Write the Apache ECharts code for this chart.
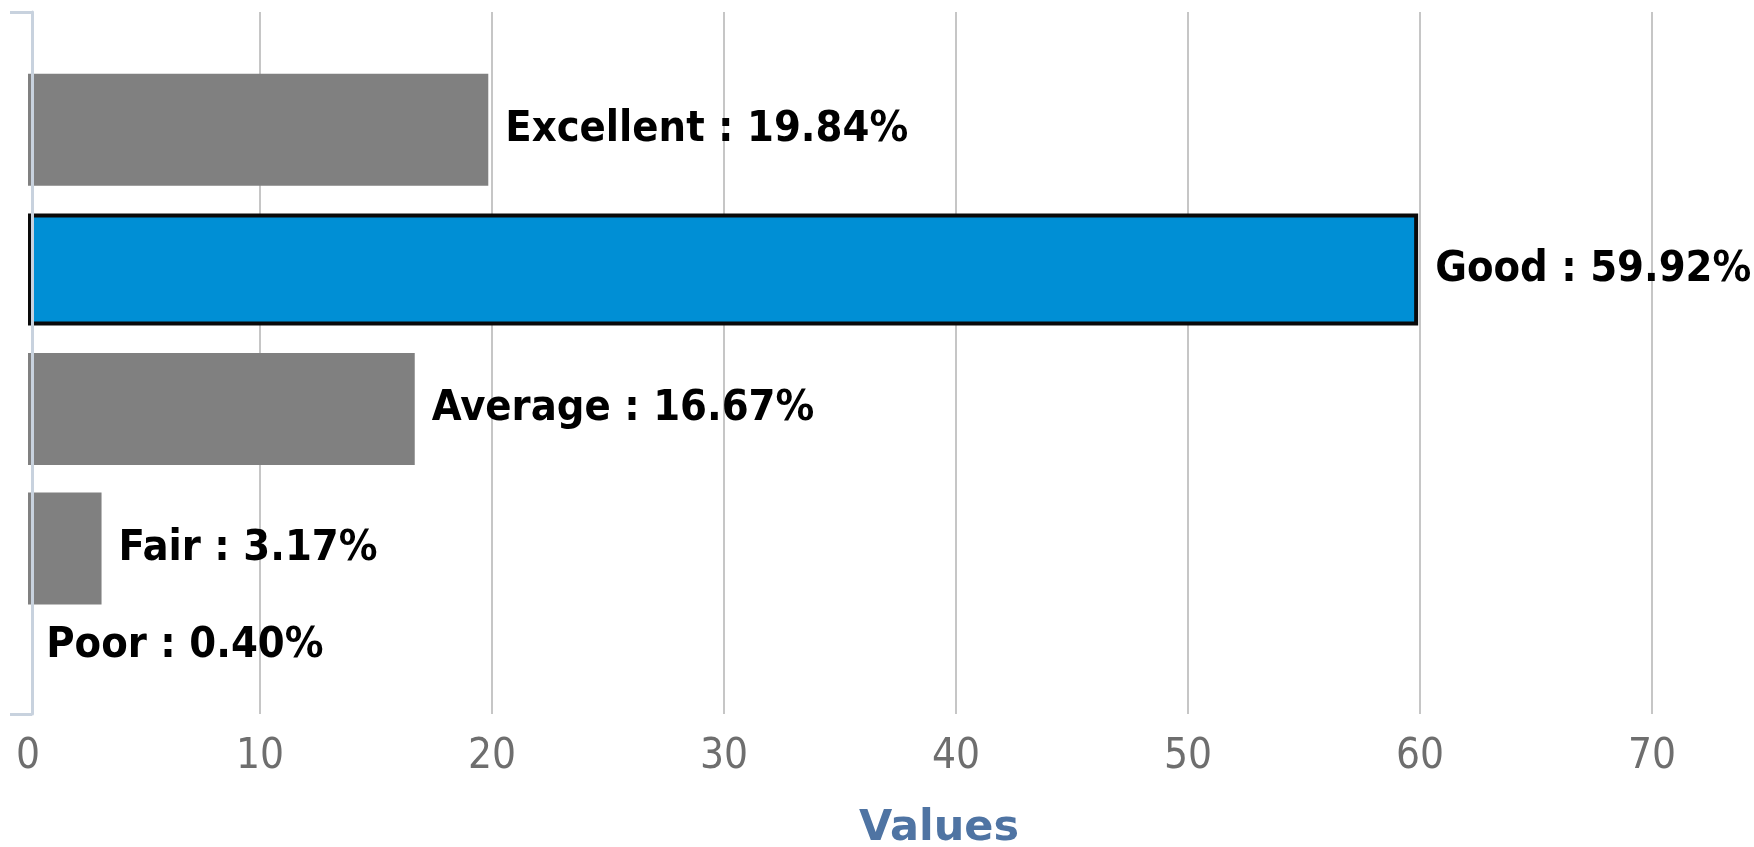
<!DOCTYPE html>
<html>
<head>
<meta charset="utf-8">
<script src="https://cdn.jsdelivr.net/npm/echarts@6/dist/echarts.min.js"></script>
<style>
html,body{margin:0;padding:0;background:#fff;}
#chart{width:1754px;height:847px;}
</style>
</head>
<body>
<div id="chart"></div>
<script>
// ---- data ----
var categories = ["Excellent", "Good", "Average", "Fair", "Poor"];
var values = [19.84, 59.92, 16.67, 3.17, 0.40];
var xTicks = [0, 10, 20, 30, 40, 50, 60, 70];
var highlighted = "Good";
var axisTitle = "Values";

// ---- chart ----
var FONT = "'DejaVu Sans Condensed', 'DejaVu Sans', sans-serif";
var xMin = xTicks[0], xMax = xTicks[xTicks.length - 1], xStep = xTicks[1] - xTicks[0];

var seriesData = categories.map(function (c, i) {
  var item = { name: c, value: values[i] };
  if (c === highlighted) {
    item.itemStyle = { color: '#008fd5', borderColor: '#0a0a0a', borderWidth: 4 };
  }
  if (i === categories.length - 1) {
    // in the reference the last (tiny) bar is not visible and its label sits higher
    item.itemStyle = { color: 'rgba(128,128,128,0)' };
    item.label = { offset: [-8, -42] };
  }
  return item;
});

var chart = echarts.init(document.getElementById('chart'), null, { renderer: 'canvas' });
chart.setOption({
  animation: false,
  backgroundColor: '#ffffff',
  grid: [
    { left: 28, right: 102, top: 12, bottom: 133, containLabel: false, outerBoundsMode: 'none' },
    { left: 28, right: 102, top: 60, bottom: 89, containLabel: false, outerBoundsMode: 'none' }
  ],
  xAxis: [{
    gridIndex: 0,
    type: 'value',
    min: xMin, max: xMax, interval: xStep,
    axisLine: { show: false, onZero: false },
    axisTick: { show: false },
    splitLine: { show: true, showMinLine: false, lineStyle: { color: '#c6c6c6', width: 2 } },
    axisLabel: { color: '#6e6e6e', fontFamily: FONT, fontSize: 42, margin: 22 },
    name: axisTitle,
    nameLocation: 'middle',
    nameGap: 93,
    nameTextStyle: { color: '#4f74a3', fontFamily: "'DejaVu Sans', sans-serif", fontWeight: 'bold', fontSize: 43, padding: [0, 0, 0, 198] }
  }, {
    gridIndex: 1,
    type: 'value',
    min: xMin, max: xMax, interval: xStep,
    show: false
  }],
  yAxis: [{
    gridIndex: 0,
    type: 'value',
    min: 0, max: 1,
    offset: -4,
    z: 5,
    axisLabel: { show: false },
    splitLine: { show: false },
    axisLine: { show: true, onZero: false, lineStyle: { color: '#c8d2de', width: 3 } },
    axisTick: { show: true, customValues: [0, 1], length: 22, lineStyle: { color: '#c8d2de', width: 3 } }
  }, {
    gridIndex: 1,
    type: 'category',
    inverse: true,
    data: categories,
    show: false
  }],
  series: [{
    type: 'bar',
    xAxisIndex: 1,
    yAxisIndex: 1,
    barWidth: 112,
    itemStyle: { color: '#808080' },
    label: {
      show: true,
      position: 'right',
      distance: 17,
      color: '#000',
      fontFamily: FONT,
      fontWeight: 'bold',
      fontSize: 43,
      formatter: function (p) { return p.name + ' : ' + p.value.toFixed(2) + '%'; }
    },
    data: seriesData
  }]
});
</script>
</body>
</html>
